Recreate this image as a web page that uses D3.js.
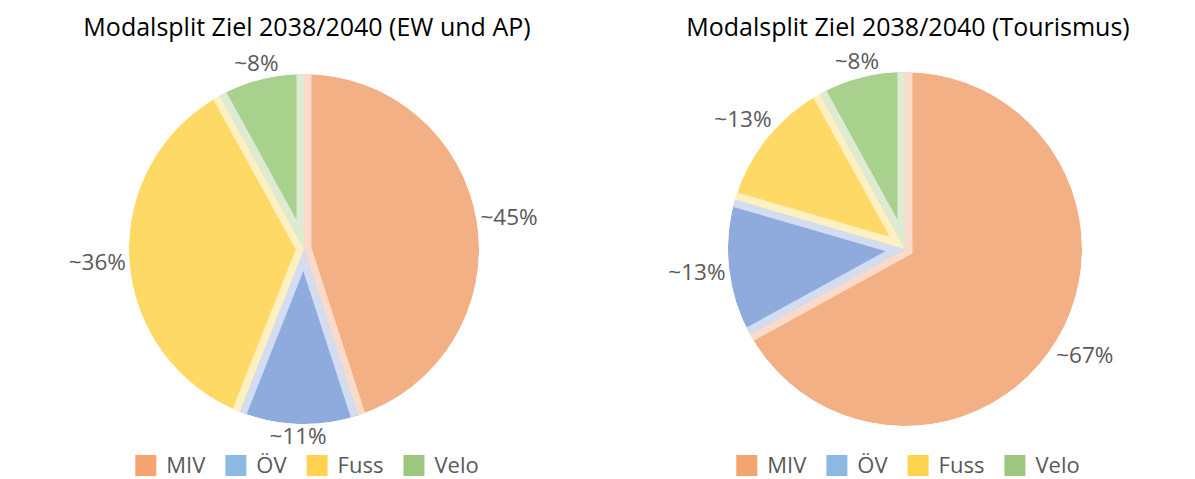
<!DOCTYPE html>
<html>
<head>
<meta charset="utf-8">
<script src="https://cdn.jsdelivr.net/npm/d3@7"></script>
<style>
  body { margin: 0; background: #fff; }
  svg { display: block; font-family: "Open Sans", sans-serif; }
</style>
</head>
<body>
<div id="chart"></div>
<script>
// categories + colours
const categories = ["MIV", "ÖV", "Fuss", "Velo"];
const fillColors = ["#F2B084", "#8FAADC", "#FFD966", "#A9D18E"];
const paleColors = ["#FADBC9", "#D3DDF2", "#FFF0C2", "#DDEBD3"];
const legendColors = ["#F4A46E", "#8DB8E2", "#FFD34F", "#9DC77F"];

// values (labels are rounded with "~")
const titles = ["Modalsplit Ziel 2038/2040 (EW und AP)", "Modalsplit Ziel 2038/2040 (Tourismus)"];
const valuesEW = [45, 11, 36, 8];
const valuesTour = [67, 12.5, 12.5, 8];

const W = 1195, H = 479;
const svg = d3.select("#chart").append("svg")
  .attr("width", W).attr("height", H);
const defs = svg.append("defs");

const pie = d3.pie().sort(null).value(d => d);
let clipId = 0;

function drawPie(values, title, cx, cy, r) {
  const g = svg.append("g");

  g.append("text")
    .attr("x", cx + 3).attr("y", 36)
    .attr("text-anchor", "middle")
    .attr("font-size", 25)
    .attr("fill", "#000")
    .text(title);

  const arcs = pie(values);
  const arc = d3.arc().innerRadius(0).outerRadius(r);
  const band = 7.5; // pale band along the radial edges

  const pg = g.append("g").attr("transform", `translate(${cx},${cy})`);
  arcs.forEach((d, i) => {
    const id = "slice" + (clipId++);
    defs.append("clipPath").attr("id", id)
      .append("path").attr("d", arc(d))
      .attr("transform", `translate(${cx},${cy})`);
    const sg = g.append("g").attr("clip-path", `url(#${id})`)
      .append("g").attr("transform", `translate(${cx},${cy})`);
    sg.append("path").attr("d", arc(d)).attr("fill", fillColors[i]);
    // radial edges, stroked and clipped to the slice
    const R = r + 20;
    const p = d3.path();
    p.moveTo(R * Math.sin(d.startAngle), -R * Math.cos(d.startAngle));
    p.lineTo(0, 0);
    p.lineTo(R * Math.sin(d.endAngle), -R * Math.cos(d.endAngle));
    sg.append("path").attr("d", p.toString())
      .attr("fill", "none")
      .attr("stroke", paleColors[i])
      .attr("stroke-width", band * 2)
      .attr("stroke-linejoin", "miter");
  });

  // data labels outside end
  const lab = g.append("g").attr("transform", `translate(${cx},${cy})`);
  const gap = 3;
  arcs.forEach((d, i) => {
    const a = (d.startAngle + d.endAngle) / 2;
    const ux = Math.sin(a), uy = -Math.cos(a);
    const t = lab.append("text")
      .attr("font-size", 22.5)
      .attr("fill", "#595959")
      .attr("text-anchor", "middle")
      .text("~" + Math.round(d.value) + "%");
    const w = t.node().getComputedTextLength();
    const h = 17;
    const dist = r + gap + Math.abs(ux) * w / 2 + Math.abs(uy) * h / 2;
    t.attr("x", ux * dist).attr("y", uy * dist + 8);
  });

  // legend
  const lg = g.append("g");
  const sq = 21, tgap = 10, igap = 20;
  let x = 0;
  categories.forEach((c, i) => {
    lg.append("rect")
      .attr("x", x).attr("y", 455)
      .attr("width", sq).attr("height", sq)
      .attr("fill", legendColors[i]);
    const t = lg.append("text")
      .attr("x", x + sq + tgap).attr("y", 473)
      .attr("font-size", 22)
      .attr("fill", "#595959")
      .text(c);
    x += sq + tgap + t.node().getComputedTextLength() + igap;
  });
  const total = x - igap;
  lg.attr("transform", `translate(${cx + 3 - total / 2},0)`);
}

drawPie(valuesEW, titles[0], 304, 249, 175);
drawPie(valuesTour, titles[1], 905, 249, 177);
</script>
</body>
</html>
